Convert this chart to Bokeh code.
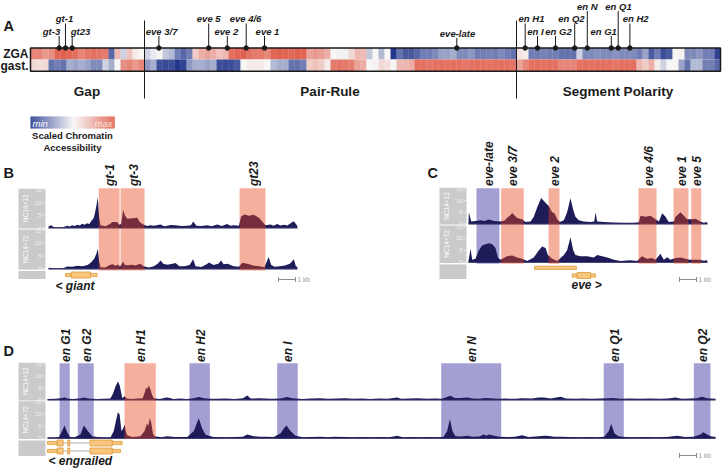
import numpy as np
from bokeh.plotting import figure
from bokeh.models import Range1d, LinearColorMapper, ColumnDataSource
from bokeh.core.properties import value
from bokeh.embed import file_html
from bokeh.resources import INLINE

# ======================= DATA =======================
# Panel A: scaled chromatin accessibility, one column per enhancer
zga_access = [0.55, 0.55, 0.45, 0.5, 0.7, 0.72, 0.7, 0.65, 0.55, 0.62, 0.65, 0.62, 0.6, -0.6, 0.3, -0.15, 0.25, 0.05, 0.0,
              -0.15, -0.05, 0.0, -0.2, -0.25, -0.5, -0.6, -0.5, 0.2, 0.35, 0.4, 0.35, 0.25, 0.3, 0.65, 0.7, 0.72, 0.65,
              0.6, 0.6, 0.55, 0.7, 0.72, 0.7, 0.68, 0.72, 0.7, 0.4, 0.45, 0.42, 0.35, 0.0, 0.02, -0.02, 0.15, 0.3, 0.28,
              -0.2, 0.0, -0.25, 0.0, -0.8, -0.55, -0.65, -0.65, -0.6, -0.5, -0.5, -0.45, -0.35, -0.35, -0.3, -0.45,
              -0.45, -0.4, -0.5, -0.5, -0.48, -0.5, -0.45, -0.5, -0.55,
              0.1, 0.05, -0.5, -0.5, -0.48, -0.5, -0.5, -0.55, -0.55, -0.55, -0.15, -0.45, -0.45, -0.42, -0.45, -0.45,
              -0.42, -0.45, -0.45, -0.45, -0.5, -0.35, -0.65, -0.5, -0.7, -0.65, 0.0, 0.02, -0.45, -0.45, -0.4, -0.5,
              -0.5, -0.75]
gast_access = [0.15, 0.12, 0.15, -0.55, -0.5, -0.55, -0.3, -0.35, -0.3, -0.35, -0.45, -0.45, -0.15, -0.3, 0.0, 0.5,
               0.55, 0.45, 0.55,
               -0.4, -0.3, -0.7, -0.72, -0.7, -0.85, -0.75, -0.4, -0.3, -0.3, -0.35, -0.3, -0.7, -0.72, -0.7, -0.65,
               0.0, 0.05, 0.05, 0.05, 0.0, -0.25, -0.3, -0.3, -0.55, -0.55, -0.5, 0.2, 0.25, 0.2, 0.05, 0.6, 0.62, 0.6,
               0.58, 0.4, 0.35, 0.0, 0.02, 0.15, 0.12, 0.0, 0.3, 0.3, 0.35, 0.65, 0.65, 0.62, 0.65, 0.65, 0.63, 0.65,
               0.65, 0.62, 0.65, 0.65, 0.65, 0.63, 0.65, 0.65, 0.65, 0.62,
               0.4, 0.55, 0.65, 0.65, 0.63, 0.65, 0.65, 0.55, 0.55, 0.55, 0.65, 0.65, 0.63, 0.65, 0.65, 0.65, 0.62,
               0.65, 0.65, 0.65, 0.3, 0.2, 0.35, 0.05, -0.15, 0.0, 0.0, -0.35, -0.55, -0.25, -0.25, -0.5, -0.5, -0.6]
heat_rows = ["ZGA", "gast."]
group_names = ["Gap", "Pair-Rule", "Segment Polarity"]
group_start = [0, 19, 81]
group_end = [19, 81, 115]
marker_names = ["gt-3", "gt-1", "gt23", "eve 3/7", "eve 5", "eve 2", "eve 4/6", "eve 1", "eve-late",
                "en H1", "en I", "en G2", "en Q2", "en N", "en G1", "en Q1", "en H2"]
marker_cols = [4.78, 5.83, 6.95, 21.4, 29.7, 32.8, 35.95, 39.0, 71.05,
               82.45, 84.5, 87.5, 90.7, 92.8, 96.8, 97.95, 99.9]

# Panels B-D: ATAC signal tracks, (kb, signal) pairs
b_nc12 = [(0.0, 0.5), (0.16, 1.0), (0.31, 0.3), (0.61, 0.1), (0.9, 0.3), (1.1, 0.8), (1.25, 0.5), (1.39, 1.0),
          (1.55, 0.7), (1.69, 1.2), (1.85, 0.9), (1.98, 1.6), (2.12, 1.2), (2.27, 1.8), (2.4, 1.5), (2.51, 2.6),
          (2.67, 4.0), (2.8, 8.0), (2.9, 12.1), (2.98, 4.0), (3.06, 1.0), (3.35, 0.6), (3.61, 1.5), (3.75, 2.3),
          (4.04, 2.3), (4.16, 1.2), (4.27, 1.5), (4.39, 7.0), (4.49, 5.0), (4.63, 3.6), (4.92, 3.8), (5.22, 4.0),
          (5.37, 2.2), (5.61, 1.2), (5.8, 0.7), (6.0, 1.0), (6.2, 0.8), (6.59, 1.3), (6.8, 0.6), (6.98, 0.8),
          (7.2, 1.1), (7.47, 1.0), (7.8, 0.7), (8.16, 0.8), (8.38, 1.0), (8.51, 2.5), (8.7, 0.8), (9.0, 0.7),
          (9.33, 1.0), (9.6, 0.6), (9.92, 1.3), (10.2, 0.7), (10.51, 1.5), (10.7, 0.8), (10.9, 1.0), (11.2, 0.8),
          (11.33, 4.5), (11.53, 5.3), (11.78, 4.8), (12.08, 5.2), (12.37, 4.0), (12.57, 2.5), (12.76, 1.0),
          (13.06, 1.3), (13.25, 0.8), (13.45, 1.5), (13.65, 0.9), (13.84, 1.2), (14.05, 0.9), (14.24, 1.8),
          (14.43, 2.6), (14.63, 0.8)]
b_nc72 = [(0.0, 0.4), (0.3, 0.2), (0.6, 0.1), (0.9, 0.3), (1.1, 0.9), (1.4, 0.8), (1.7, 1.2), (2.0, 1.0),
          (2.3, 1.5), (2.5, 2.5), (2.7, 4.0), (2.82, 6.0), (2.9, 7.9), (2.98, 3.0), (3.06, 0.6), (3.35, 0.5),
          (3.6, 1.5), (3.78, 1.8), (3.95, 1.2), (4.1, 1.7), (4.2, 0.8), (4.39, 2.8), (4.5, 1.5), (4.7, 1.4),
          (4.9, 1.6), (5.1, 1.3), (5.4, 2.0), (5.6, 1.0), (5.9, 0.5), (6.2, 1.0), (6.42, 2.0), (6.6, 3.3),
          (6.75, 2.0), (7.0, 1.6), (7.3, 2.0), (7.47, 2.3), (7.7, 1.0), (8.0, 1.0), (8.3, 1.5), (8.51, 3.7),
          (8.65, 1.0), (9.0, 0.7), (9.3, 1.8), (9.45, 2.5), (9.7, 1.5), (10.0, 2.0), (10.15, 3.3), (10.3, 1.8),
          (10.55, 2.0), (10.7, 1.5), (10.9, 1.0), (11.2, 0.8), (11.4, 2.4), (11.55, 2.2), (11.8, 1.8),
          (12.1, 1.2), (12.4, 1.0), (12.7, 0.6), (12.95, 4.6), (13.1, 1.5), (13.3, 0.8), (13.6, 1.0),
          (13.9, 1.3), (14.2, 2.0), (14.43, 3.7), (14.55, 1.0), (14.63, 0.8)]
c_nc12 = [(0.0, 0.5), (0.02, 5.0), (0.16, 1.0), (0.51, 1.3), (0.71, 1.5), (0.95, 1.2), (1.2, 1.8), (1.49, 1.2),
          (1.88, 1.0), (2.1, 1.3), (2.27, 2.5), (2.5, 4.0), (2.57, 4.6), (2.86, 2.5), (3.16, 2.0), (3.35, 0.8),
          (3.65, 1.0), (3.84, 3.0), (4.04, 7.0), (4.27, 11.1), (4.53, 9.0), (4.73, 7.5), (4.92, 5.0), (5.06, 4.5),
          (5.22, 2.0), (5.37, 0.8), (5.61, 1.5), (5.8, 5.0), (6.0, 11.0), (6.16, 6.0), (6.29, 3.0), (6.49, 1.5),
          (6.78, 1.0), (7.18, 0.8), (7.4, 1.0), (7.47, 5.0), (7.57, 1.0), (7.96, 0.8), (8.55, 0.6), (9.14, 0.5),
          (9.73, 0.5), (10.02, 0.7), (10.12, 3.5), (10.41, 3.0), (10.71, 3.5), (11.0, 2.0), (11.2, 1.0),
          (11.39, 4.5), (11.59, 3.0), (11.78, 0.8), (12.08, 1.0), (12.18, 3.0), (12.47, 5.0), (12.67, 3.5),
          (12.86, 2.0), (13.1, 2.0), (13.35, 2.2), (13.65, 1.0), (13.84, 0.5), (14.04, 0.8)]
c_nc72 = [(0.0, 0.5), (0.12, 5.6), (0.22, 1.0), (0.41, 1.5), (0.61, 5.0), (0.8, 7.0), (1.0, 7.5), (1.2, 8.0),
          (1.39, 7.5), (1.59, 6.0), (1.73, 2.0), (1.88, 1.0), (2.27, 2.5), (2.57, 2.8), (2.86, 2.0), (3.16, 1.5),
          (3.45, 0.5), (3.84, 2.0), (4.14, 5.0), (4.33, 6.6), (4.53, 6.0), (4.67, 3.0), (4.92, 1.5), (5.22, 0.5),
          (5.61, 3.0), (5.8, 5.0), (6.0, 10.5), (6.16, 5.0), (6.29, 3.0), (6.59, 2.5), (6.98, 2.5), (7.37, 2.0),
          (7.57, 3.0), (7.86, 2.5), (8.16, 2.0), (8.55, 1.0), (8.94, 0.5), (9.53, 0.8), (9.92, 0.5), (10.2, 2.5),
          (10.5, 1.5), (10.8, 1.8), (11.0, 1.0), (11.29, 3.5), (11.49, 1.0), (11.69, 2.1), (11.88, 1.0),
          (12.18, 1.8), (12.47, 2.0), (12.76, 1.5), (13.0, 1.0), (13.6, 1.0), (13.84, 0.6), (14.04, 0.8)]
d_nc12 = [(0.0, 0.3), (0.5, 0.4), (0.9, 0.8), (1.0, 1.1), (1.15, 0.5), (1.5, 0.3), (2.0, 0.6), (2.15, 1.0),
          (2.4, 0.5), (2.9, 0.3), (3.3, 0.4), (3.7, 0.5), (3.85, 2.5), (4.0, 5.5), (4.14, 7.6), (4.25, 6.0),
          (4.33, 3.0), (4.4, 0.8), (4.55, 1.5), (4.65, 0.5), (5.0, 0.3), (5.3, 0.5), (5.6, 0.6), (5.72, 3.0),
          (5.8, 5.0), (5.88, 4.6), (5.96, 6.0), (6.05, 4.5), (6.15, 2.0), (6.25, 0.6), (6.6, 0.3), (7.0, 1.0),
          (7.2, 0.8), (7.4, 0.3), (7.8, 0.5), (8.2, 0.3), (8.6, 0.6), (8.9, 1.2), (9.2, 0.6), (9.6, 0.4),
          (10.0, 0.4), (10.5, 0.5), (11.0, 0.3), (11.5, 0.6), (11.75, 1.8), (11.95, 0.5), (12.4, 0.6), (12.8, 0.5),
          (13.2, 0.4), (13.7, 0.5), (14.1, 1.2), (14.4, 0.6), (15.0, 0.3), (15.5, 0.5), (16.0, 0.6), (16.5, 0.4),
          (17.0, 0.5), (17.5, 0.6), (18.0, 0.4), (18.5, 0.5), (19.0, 0.3), (19.5, 0.5), (20.0, 0.4), (20.57, 1.0),
          (20.8, 0.4), (21.3, 0.5), (21.8, 0.6), (22.3, 0.4), (22.8, 0.5), (23.2, 0.4), (23.5, 1.2), (23.7, 1.7),
          (23.95, 0.8), (24.3, 0.8), (24.69, 1.0), (25.0, 0.5), (25.4, 0.4), (25.76, 0.8), (26.0, 0.6),
          (26.5, 0.4), (27.0, 0.5), (27.5, 0.4), (27.9, 0.6), (28.5, 0.5), (28.9, 1.0), (29.2, 1.0), (29.6, 0.5),
          (30.18, 1.3), (30.5, 0.5), (31.0, 0.4), (31.5, 0.5), (32.0, 0.4), (32.5, 0.5), (33.0, 0.6), (33.3, 0.8),
          (33.7, 0.4), (34.2, 0.5), (34.8, 0.4), (35.4, 0.5), (36.0, 0.4), (36.5, 0.5), (36.94, 1.0), (37.3, 0.4),
          (37.8, 0.5), (38.2, 0.6), (38.5, 1.3), (38.8, 0.6), (39.3, 0.4)]
d_nc72 = [(0.0, 0.3), (0.4, 0.3), (0.67, 0.5), (0.86, 3.0), (1.0, 5.3), (1.16, 2.5), (1.31, 0.5), (1.6, 0.4),
          (1.94, 1.5), (2.14, 5.3), (2.37, 3.0), (2.63, 0.8), (2.92, 0.5), (3.3, 0.4), (3.71, 0.4), (3.9, 3.0),
          (4.05, 8.0), (4.14, 10.8), (4.24, 10.0), (4.35, 3.0), (4.45, 4.0), (4.53, 5.7), (4.62, 2.5), (4.69, 1.2),
          (4.98, 0.5), (5.47, 0.8), (5.71, 3.0), (5.86, 6.2), (5.93, 5.0), (6.02, 8.5), (6.1, 6.5), (6.2, 2.0),
          (6.29, 0.8), (6.7, 0.4), (7.04, 0.8), (7.5, 0.5), (8.22, 0.5), (8.61, 3.0), (8.8, 6.5), (8.9, 8.3),
          (9.1, 4.0), (9.29, 1.5), (9.49, 1.0), (9.78, 0.5), (10.5, 0.4), (11.0, 0.5), (11.5, 0.6), (11.75, 1.5),
          (12.14, 0.8), (12.5, 0.6), (12.92, 0.6), (13.3, 0.5), (13.7, 2.0), (13.9, 4.0), (14.06, 5.3),
          (14.29, 3.0), (14.59, 1.0), (15.0, 0.4), (15.5, 0.5), (16.06, 0.6), (16.5, 0.4), (16.84, 0.6),
          (17.5, 0.5), (18.0, 0.4), (18.5, 0.5), (19.0, 0.4), (19.6, 0.5), (20.1, 0.4), (20.57, 1.0), (20.9, 0.4),
          (21.5, 0.5), (22.0, 0.4), (22.5, 0.5), (23.0, 0.4), (23.3, 0.6), (23.51, 3.0), (23.67, 8.0),
          (23.82, 3.0), (24.0, 0.8), (24.3, 0.7), (24.69, 1.0), (25.0, 0.6), (25.4, 0.7), (25.67, 1.5),
          (25.8, 1.0), (25.96, 1.5), (26.25, 1.0), (26.6, 0.6), (27.0, 0.5), (27.5, 0.6), (27.92, 1.2),
          (28.3, 0.5), (28.9, 0.8), (29.2, 1.0), (29.39, 1.0), (29.8, 0.6), (30.2, 0.6), (30.7, 0.5), (31.3, 0.4),
          (31.8, 0.5), (32.3, 0.4), (32.75, 0.6), (33.02, 3.0), (33.16, 6.0), (33.35, 2.0), (33.6, 0.8),
          (34.0, 0.5), (34.6, 0.4), (35.2, 0.5), (35.8, 0.4), (36.4, 0.5), (37.04, 1.0), (37.5, 0.5), (38.0, 0.6),
          (38.41, 1.5), (38.57, 2.5), (38.8, 1.5), (39.0, 0.8), (39.3, 0.5)]
track_names = ["NC14+12", "NC14+72"]
track_ticks = [0, 5, 10, 15]

# Enhancers (kb)
b_enh_names = ["gt-1", "gt-3", "gt23"]
b_enh_start = [2.96, 4.24, 11.24]
b_enh_end = [4.18, 5.65, 12.76]
b_enh_kind = ["early", "early", "early"]
c_enh_names = ["eve-late", "eve 3/7", "eve 2", "eve 4/6", "eve 1", "eve 5"]
c_enh_start = [0.47, 1.92, 4.71, 10.0, 12.06, 13.1]
c_enh_end = [1.82, 3.25, 5.35, 11.06, 12.94, 13.69]
c_enh_kind = ["late", "early", "early", "early", "early", "early"]
d_enh_names = ["en G1", "en G2", "en H1", "en H2", "en I", "en N", "en Q1", "en Q2"]
d_enh_start = [0.71, 1.78, 4.53, 8.35, 13.51, 23.16, 32.72, 38.02]
d_enh_end = [1.31, 2.72, 6.37, 9.55, 14.72, 26.69, 33.9, 39.0]
d_enh_kind = ["late", "late", "early", "late", "late", "late", "late", "late"]

# Gene models (kb): row, start, end, kind
giant_row = [0, 0, 0]
giant_start = [1.0, 1.34, 2.47]
giant_end = [1.34, 2.47, 2.86]
giant_kind = ["utr", "cds", "utr"]
eve_row = [0, 1, 1, 1]
eve_start = [3.88, 6.1, 6.39, 7.18]
eve_end = [6.35, 6.39, 7.18, 7.47]
eve_kind = ["utr", "utr", "cds", "utr"]
en_row = [0, 0, 0, 0, 0, 0, 0, 1, 1, 1, 1, 1, 1, 1]
en_start = [0.0, 0.57, 0.92, 1.19, 1.31, 2.5, 3.81, 0.0, 0.57, 0.92, 1.19, 1.31, 2.5, 3.81]
en_end = [0.57, 0.92, 1.19, 1.31, 2.5, 3.81, 4.39, 0.57, 0.92, 1.19, 1.31, 2.5, 3.81, 4.3]
en_kind = ["utr", "cds", "intron", "cds", "intron", "cds", "utr",
           "utr", "cds", "intron", "cds", "intron", "cds", "utr"]
gene_labels = ["< giant", "eve >", "< engrailed"]

# ======================= STYLE / LAYOUT =======================
FONT = "Liberation Sans"
INK = "#1a1a1a"
NAVY = "#1e1c58"
PURPLE = "#a49fd3"
SALMON = "#e8461a"
SALMON_ALPHA = 0.43
GRAY = "#cacaca"
GENE_FILL = "#f8c67c"
GENE_LINE = "#dc9a3c"
PX_PER_KB = 17.0

p = figure(width=722, height=468, x_range=Range1d(0, 722), y_range=Range1d(468, 0),
           output_backend="svg", toolbar_location=None, min_border=0,
           x_axis_location=None, y_axis_location=None)
p.grid.visible = False
p.outline_line_color = None


def txt(x, y, s, size, style="normal", align="left", baseline="middle", color=INK, angle=0.0):
    p.text(x=[x], y=[y], text=[s], text_font=value(FONT), text_font_size=f"{size}px",
           text_font_style=style, text_align=align, text_baseline=baseline,
           text_color=color, angle=angle)


# ---------- Panel A ----------
txt(3, 25.5, "A", 14.5, "bold")
LOW, HIGH = -0.8, 0.75
blue = np.array([35, 55, 140]); white = np.array([246, 246, 246]); red = np.array([224, 92, 74])
palette = []
for t in np.linspace(LOW, HIGH, 256):
    if t < 0:
        c = white + (blue - white) * (-t / -LOW)
    else:
        c = white + (red - white) * (t / HIGH)
    palette.append("#%02x%02x%02x" % tuple(int(round(v)) for v in c))
mapper = LinearColorMapper(palette=palette, low=LOW, high=HIGH)

HX0, CW = 30.0, 6.0
row_top = [47.5, 59.0]
row_bot = [59.0, 70.7]
for r, vals in enumerate([zga_access, gast_access]):
    n = len(vals)
    src = ColumnDataSource(dict(l=[HX0 + CW * i for i in range(n)],
                                r=[HX0 + CW * (i + 1) + 0.3 for i in range(n)],
                                t=[row_top[r]] * n, b=[row_bot[r]] * n, v=vals))
    p.quad(left="l", right="r", top="t", bottom="b", source=src,
           fill_color={"field": "v", "transform": mapper}, line_color=None)
ncol = len(zga_access)
p.quad(left=[HX0], right=[HX0 + CW * ncol], top=[row_top[0]], bottom=[row_bot[1]],
       fill_color=None, line_color=INK, line_width=1.5)
for r, name in enumerate(heat_rows):
    txt(28, (row_top[r] + row_bot[r]) / 2 + 0.5, name, 12, "bold", "right")
for gs, ge, gname in zip(group_start, group_end, group_names):
    txt(HX0 + CW * (gs + ge) / 2 - 0.5, 91, gname, 13.5, "bold", "center")
for gs in group_start[1:]:
    p.line([HX0 + CW * gs] * 2, [20, 98], line_color=INK, line_width=1)

marker_tier = [0, 1, 0, 0, 1, 0, 1, 0, 0, 1, 0, 0, 1, 2, 0, 2, 1]
marker_dx = [-7.7, -1, 8.3, 2.7, 0, -1, -0.7, 3, 0.7, 6.3, -2, 3, -3.3, 0, -7.7, 0.3, 5.7]
tier_y = [30.5, 18.0, 5.5]
for name, col, tier, dx in zip(marker_names, marker_cols, marker_tier, marker_dx):
    mx = HX0 + CW * col
    ty = tier_y[tier] + (2 if name == "eve-late" else 0)
    p.line([mx, mx], [ty + 5, row_top[0]], line_color=INK, line_width=1)
    txt(mx + dx, ty, name, 9.5, "bold italic", "center")
p.scatter([HX0 + CW * c for c in marker_cols], [row_top[0]] * len(marker_cols),
          size=4.5, color=INK)

# colour legend
cb_vals = list(np.linspace(LOW, HIGH, 84))
cbs = ColumnDataSource(dict(l=[30 + i for i in range(84)], r=[31.2 + i for i in range(84)],
                            t=[116] * 84, b=[128] * 84, v=cb_vals))
p.quad(left="l", right="r", top="t", bottom="b", source=cbs,
       fill_color={"field": "v", "transform": mapper}, line_color=None)
txt(32, 122.5, "min", 9.5, "italic", "left", color="white")
txt(112, 122.5, "max", 9.5, "italic", "right", color="#fbe3dc")
txt(72, 135, "Scaled Chromatin", 9.5, "bold", "center")
txt(72, 147, "Accessibility", 9.5, "bold", "center")


# ---------- Panels B-D ----------
def panel(letter, letter_xy, gx, x0, x1, bases, scales, tracks, enh, box_tb, lab_bottom,
          gene, gene_ys, gene_row_bot, gene_label, gene_label_xy, sbar):
    txt(letter_xy[0], letter_xy[1], letter, 14.5, "bold")
    for i, (base, sc) in enumerate(zip(bases, scales)):
        top = base - 15 * sc - 1
        p.quad(left=[gx[0]], right=[gx[1]], top=[top], bottom=[base + 0.8], fill_color=GRAY, line_color=None)
        txt(gx[0] + 6.5, (top + base) / 2, track_names[i], 6.5, "normal", "center", color="white",
            angle=np.pi / 2)
        for t in track_ticks:
            ty = base - t * sc
            txt(gx[1] - 4, ty, str(t), 5.8, "normal", "right", color="#f2f2f2")
            p.line([gx[1] - 3, gx[1]], [ty, ty], line_color="#f2f2f2", line_width=0.7)
    p.quad(left=[gx[0]], right=[gx[1]], top=[bases[-1] + 2.2], bottom=[gene_row_bot],
           fill_color=GRAY, line_color=None)
    names, st, en, kind = enh
    xs = lambda k: x0 + k * PX_PER_KB
    for s, e, k in zip(st, en, kind):
        if k == "late":
            p.quad(left=[xs(s)], right=[xs(e)], top=[box_tb[0]], bottom=[box_tb[1]],
                   fill_color=PURPLE, line_color=None)
    for (pairs, base, sc) in zip(tracks, bases, scales):
        kb = [q[0] for q in pairs]
        v = [q[1] for q in pairs]
        px = [xs(k) for k in kb]
        p.varea(x=px, y1=[base] * len(px), y2=[base - vv * sc for vv in v], fill_color=NAVY)
        p.line([x0, x1], [base, base], line_color=NAVY, line_width=1.3)
    for s, e, k in zip(st, en, kind):
        if k == "early":
            p.quad(left=[xs(s)], right=[xs(e)], top=[box_tb[0]], bottom=[box_tb[1]],
                   fill_color=SALMON, fill_alpha=SALMON_ALPHA, line_color=None)
    for nm, s, e in zip(names, st, en):
        txt((xs(s) + xs(e)) / 2 + 1, lab_bottom, nm, 12, "bold italic", "left", "middle", angle=np.pi / 2)
    rows, gs, ge, gk = gene
    for r, s, e, k in zip(rows, gs, ge, gk):
        yc = gene_ys[r]
        if k == "intron":
            p.line([xs(s), xs(e)], [yc, yc], line_color="#9a9a9a", line_width=0.8)
        else:
            h = 6.0 if k == "cds" else 3.2
            p.quad(left=[xs(s)], right=[xs(e)], top=[yc - h / 2], bottom=[yc + h / 2],
                   fill_color=GENE_FILL, line_color=GENE_LINE, line_width=0.8)
    txt(gene_label_xy[0], gene_label_xy[1], gene_label, 12, "bold italic", "left")
    sx, sy = sbar
    p.line([sx, sx + PX_PER_KB], [sy, sy], line_color="#8c8c8c", line_width=1)
    p.line([sx, sx], [sy - 2.5, sy + 2.5], line_color="#8c8c8c", line_width=1)
    p.line([sx + PX_PER_KB, sx + PX_PER_KB], [sy - 2.5, sy + 2.5], line_color="#8c8c8c", line_width=1)
    txt(sx + PX_PER_KB + 2, sy + 0.3, "1 kb", 6.5, "normal", "left", color="#9a9a9a")


panel("B", (3, 172.5), (18, 45), 48, 297, [227.3, 268.3], [2.53, 2.55], [b_nc12, b_nc72],
      (b_enh_names, b_enh_start, b_enh_end, b_enh_kind), (187.7, 270.0), 185.5,
      (giant_row, giant_start, giant_end, giant_kind), [274.5], 278.5, gene_labels[0], (55, 285.5),
      (278, 279))
panel("C", (427, 172.5), (439, 466), 468, 707, [223.3, 261.7], [2.33, 2.38], [c_nc12, c_nc72],
      (c_enh_names, c_enh_start, c_enh_end, c_enh_kind), (187.7, 263.3), 185.5,
      (eve_row, eve_start, eve_end, eve_kind), [267.3, 275.0], 278.5, gene_labels[1], (571, 284.5),
      (679, 279))
panel("D", (3, 350.5), (18, 45), 47, 715, [399.3, 437.7], [2.4, 2.4], [d_nc12, d_nc72],
      (d_enh_names, d_enh_start, d_enh_end, d_enh_kind), (362.7, 438.3), 361.5,
      (en_row, en_start, en_end, en_kind), [442.5, 450.5], 455.5, gene_labels[2], (48, 460.5),
      (679, 455))

open("out.html", "w").write(file_html(p, INLINE))
